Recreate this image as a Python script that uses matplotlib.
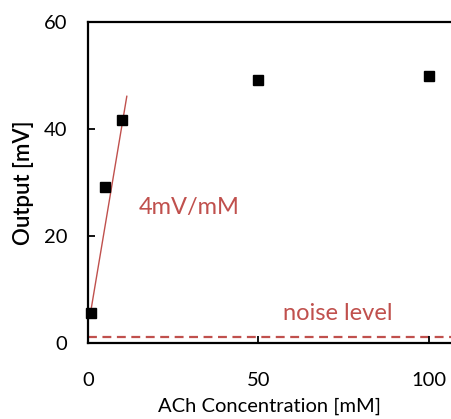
import numpy as np
import matplotlib
matplotlib.use('Agg')
import matplotlib.pyplot as plt

plt.rcParams['font.family'] = ['Lato', 'DejaVu Sans']

# measured points
conc = [1, 5, 10, 50, 100]
output = [5.7, 29.2, 41.7, 49.1, 50.0]

# linear fit over the low-concentration range (~4 mV/mM)
fit_slope = 3.8
fit_intercept = 2.8
fit_x = [0.8, 11.4]

noise_level = 1.2

red = '#c0504d'

fig = plt.figure(figsize=(4.51, 4.19), dpi=100)
ax = fig.add_axes([0.195, 0.181, 0.805, 0.7665])

fx = np.array(fit_x)
ax.plot(fx, fit_slope * fx + fit_intercept, color=red, lw=1.0, zorder=2)
ax.axhline(noise_level, color=red, lw=1.6, ls=(0, (4, 2.5)), zorder=1)
ax.plot(conc, output, 's', color='black', ms=7.3, zorder=3, clip_on=False)

ax.text(15, 25.4, '4mV/mM', color=red, fontsize=17, va='center', ha='left')
ax.text(73.3, 5.6, 'noise level', color=red, fontsize=17, va='center', ha='center')

ax.set_xlim(0, 106.5)
ax.set_ylim(0, 60)
ax.set_xticks([0, 50, 100])
ax.set_yticks([0, 20, 40, 60])
ax.spines['right'].set_visible(False)
for s in ['left', 'bottom', 'top']:
    ax.spines[s].set_linewidth(1.6)
ax.tick_params(direction='in', length=5, width=1.3, labelsize=14.5)
ax.tick_params(axis='x', pad=21)
ax.tick_params(axis='y', pad=15)

ax.set_xlabel('ACh Concentration [mM]', fontsize=14.5, labelpad=6)
ax.set_ylabel('Output [mV]', fontsize=16, fontweight='semibold', labelpad=7)

fig.savefig('out.png', dpi=100)
